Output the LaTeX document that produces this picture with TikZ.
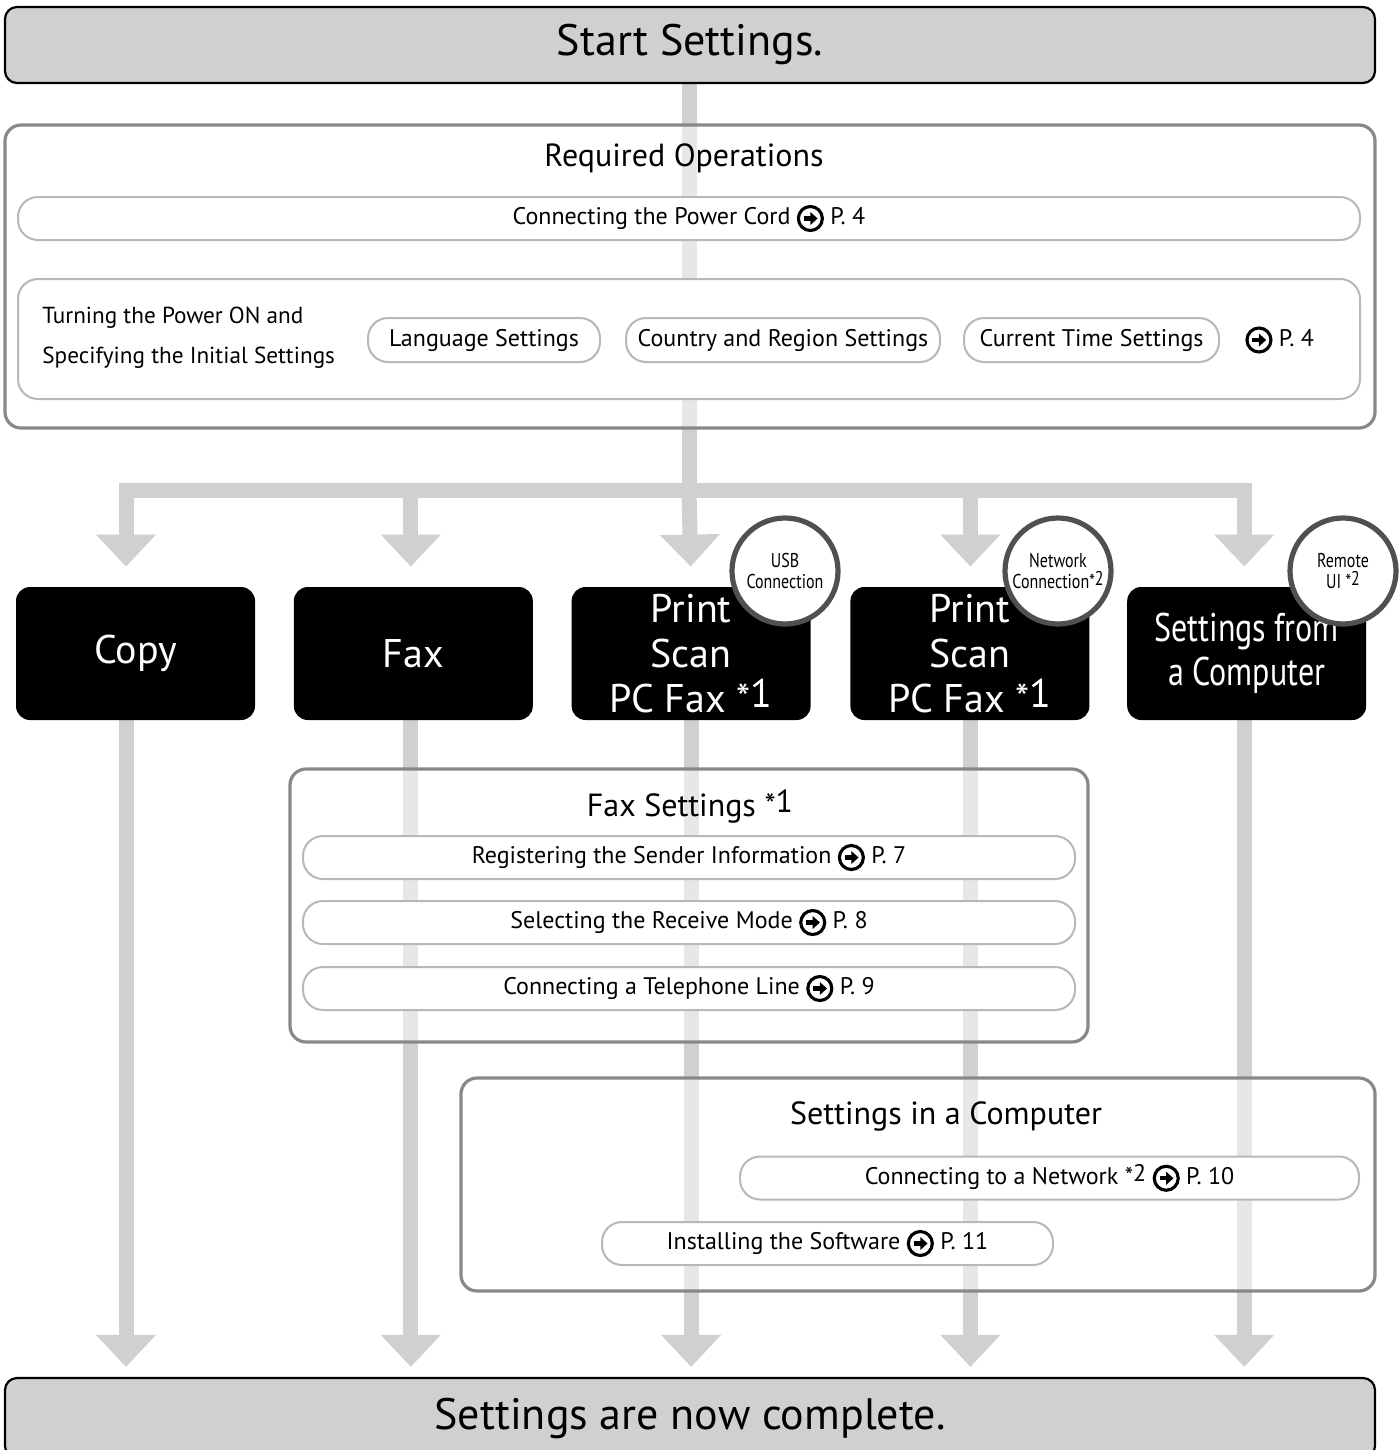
\documentclass[tikz,border=0pt]{standalone}
\usepackage{fontspec}
\setmainfont{PT Sans}
\newfontfamily\narrowfont[FakeStretch=0.8]{PT Sans}
\usetikzlibrary{arrows.meta, positioning, backgrounds}
\definecolor{flowgray}{RGB}{208, 208, 208}
\definecolor{framegray}{RGB}{136, 136, 136}
\definecolor{itemgray}{RGB}{184, 184, 184}
\definecolor{badgegray}{RGB}{80, 80, 80}
\newcommand{\seepage}{\tikz[baseline=-0.5ex, x=1pt, y=1pt, sharp corners, solid, opacity=1]{\draw[black, line width=0.13em] (0,0) circle (0.5em); \fill[black] (-0.28em,-0.09em) rectangle (0.02em,0.09em); \fill[black] (0,0.27em) -- (0.3em,0) -- (0,-0.27em) -- cycle;}}
\newcommand{\starnote}[1]{*\raisebox{0.25ex}{#1}}

\begin{document}
\begin{tikzpicture}[
    x=0.5pt, y=-0.5pt,
    every node/.style={font=\fontsize{12}{14}\selectfont, inner sep=0pt},
    endbox/.style={rectangle, rounded corners=6pt, draw=black, line width=1.1pt, fill=flowgray, minimum width=685pt, minimum height=38pt, font=\fontsize{22}{26}\selectfont},
    frame/.style={rectangle, rounded corners=8pt, draw=framegray, line width=1.6pt, fill=white, fill opacity=0.5},
    title/.style={font=\fontsize{16}{19}\selectfont},
    item/.style={rectangle, rounded corners=10pt, draw=itemgray, line width=1pt, fill=white, minimum height=21.5pt},
    task/.style={rectangle, rounded corners=7pt, fill=black, text=white, minimum width=119.5pt, minimum height=66.5pt, align=center, font=\fontsize{20}{22.5}\selectfont},
    badge/.style={circle, draw=badgegray, line width=2.6pt, fill=white, minimum size=53pt, align=center, font=\narrowfont\fontsize{10}{10.5}\selectfont},
    flow/.style={draw=flowgray, line width=7.5pt, -{Triangle[width=29pt, length=16pt]}},
    flowline/.style={draw=flowgray, line width=7.5pt}
]
\useasboundingbox (0,0) rectangle (1400,1450);

\node[endbox] (start) at (690,45) {Start Settings.};

% required operations
\node[frame, minimum width=685pt, minimum height=151.5pt] (reqframe) at (690,276.5) {};
\node[title] (reqtitle) at (684,158) {Required Operations};
\node[item, minimum width=671pt] (power) at (689,218.5) {Connecting the Power Cord \seepage\ P. 4};
\node[item, minimum width=671pt, minimum height=60pt] (initial) at (689,339) {};
\node[anchor=west, align=left, font=\fontsize{11.6}{20}\selectfont] (initialtext) at (42,338) {Turning the Power ON and\\Specifying the Initial Settings};
\node[item, minimum width=116pt, minimum height=22pt] (lang) at (484,340) {Language Settings};
\node[item, minimum width=157pt, minimum height=22pt, right=12pt of lang] (country) {Country and Region Settings};
\node[item, minimum width=127.5pt, minimum height=22pt, right=11pt of country] (clock) {Current Time Settings};
\node[right=12.5pt of clock] (initialpage) {\seepage\ P. 4};

\coordinate (split) at (689,490);

% functions
\node[task] (copy) at (135.5,653.5) {Copy};
\node[task, right=19pt of copy] (fax) {Fax};
\node[task, right=19pt of fax] (usb) {Print\\Scan\\PC Fax \starnote{1}};
\node[task, right=19.5pt of usb] (lan) {Print\\Scan\\PC Fax \starnote{1}};
\node[task, right=18.5pt of lan, font=\narrowfont\fontsize{20}{22}\selectfont] (remote) {Settings from\\a Computer};

\node[badge] (usbbadge) at (785,571) {USB\\Connection};
\node[badge] (lanbadge) at (1058,571) {Network\\Connection\starnote{2}};
\node[badge] (remotebadge) at (1343,571) {Remote\\UI \starnote{2}};

% fax settings
\node[frame, minimum width=399pt, minimum height=136.5pt] (faxframe) at (689,905.5) {};
\node[title] (faxtitle) at (690,806) {Fax Settings \starnote{1}};
\node[item, minimum width=386pt] (sender) at (689,857.5) {Registering the Sender Information \seepage\ P. 7};
\node[item, minimum width=386pt] (receive) at (689,922.5) {Selecting the Receive Mode \seepage\ P. 8};
\node[item, minimum width=386pt] (phone) at (689,988.5) {Connecting a Telephone Line \seepage\ P. 9};

% computer settings
\node[frame, minimum width=457pt, minimum height=106.5pt] (pcframe) at (918,1184.5) {};
\node[title] (pctitle) at (946,1116) {Settings in a Computer};
\node[item, minimum width=309.5pt] (network) at (1049.5,1178) {Connecting to a Network \starnote{2} \seepage\ P. 10};
\node[item, minimum width=225.5pt] (software) at (827.5,1243.5) {Installing the Software \seepage\ P. 11};

\node[endbox, minimum height=40pt] (done) at (690,1418) {Settings are now complete.};

\begin{scope}[on background layer]
\draw[flowline] (start.south -| split) -- (split);
\foreach \task/\dx in {copy/-4.75pt, fax/-1.25pt, lan/0.25pt, remote/-1.25pt}
  \draw[flow, shorten >=10pt] (split) -| ([xshift=\dx]\task.north);
\draw[flow, shorten >=10pt] (split) -- (usb.north);
\foreach \task/\dx in {copy/-4.75pt, fax/-1.25pt, usb/0pt, lan/0.25pt, remote/-1.25pt}
  \draw[flow, shorten >=5pt] ([xshift=\dx]\task.south) -- ([xshift=\dx]\task.south |- done.north);
\end{scope}

\end{tikzpicture}
\end{document}
